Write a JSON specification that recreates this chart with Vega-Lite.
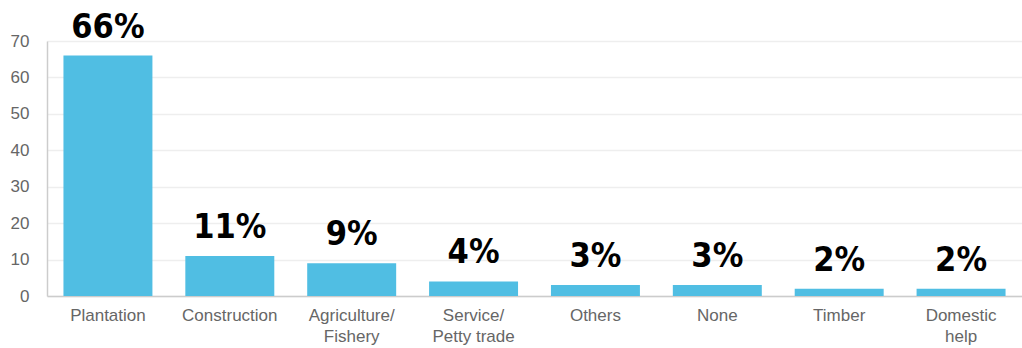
{
  "$schema": "https://vega.github.io/schema/vega-lite/v6.json",
  "width": 975,
  "height": 255,
  "autosize": {"type": "none"},
  "padding": {"left": 47, "top": 41, "right": 0, "bottom": 52},
  "background": "white",
  "data": {
    "values": [
      {"category": "Plantation", "value": 66, "label": "66%"},
      {"category": "Construction", "value": 11, "label": "11%"},
      {"category": "Agriculture/|Fishery", "value": 9, "label": "9%"},
      {"category": "Service/|Petty trade", "value": 4, "label": "4%"},
      {"category": "Others", "value": 3, "label": "3%"},
      {"category": "None", "value": 3, "label": "3%"},
      {"category": "Timber", "value": 2, "label": "2%"},
      {"category": "Domestic|help", "value": 2, "label": "2%"}
    ]
  },
  "config": {
    "view": {"stroke": null},
    "font": "Liberation Sans"
  },
  "encoding": {
    "x": {
      "field": "category",
      "type": "nominal",
      "sort": null,
      "scale": {"paddingInner": 0.27, "paddingOuter": 0.135},
      "axis": {
        "title": null,
        "labelAngle": 0,
        "labelExpr": "split(datum.label, '|')",
        "labelFont": "Liberation Sans",
        "labelFontSize": 17,
        "labelColor": "#666666",
        "labelLineHeight": 21,
        "labelPadding": 11,
        "ticks": false,
        "domainColor": "#cccccc",
        "domainWidth": 1.5
      }
    },
    "y": {
      "field": "value",
      "type": "quantitative",
      "scale": {"domain": [0, 70], "nice": false},
      "axis": {
        "title": null,
        "values": [0, 10, 20, 30, 40, 50, 60, 70],
        "labelFont": "Liberation Sans",
        "labelFontSize": 17,
        "labelColor": "#666666",
        "labelPadding": 18,
        "ticks": false,
        "domainColor": "#cccccc",
        "domainWidth": 1.5,
        "gridColor": "#eeeeee",
        "gridWidth": 1.5
      }
    }
  },
  "layer": [
    {"mark": {"type": "bar", "color": "#50BEE3"}},
    {
      "mark": {
        "type": "text",
        "baseline": "alphabetic",
        "dy": -18,
        "font": "DejaVu Sans Condensed",
        "fontWeight": "bold",
        "fontSize": 34,
        "color": "black"
      },
      "encoding": {
        "text": {"field": "label", "type": "nominal"}
      }
    }
  ]
}
